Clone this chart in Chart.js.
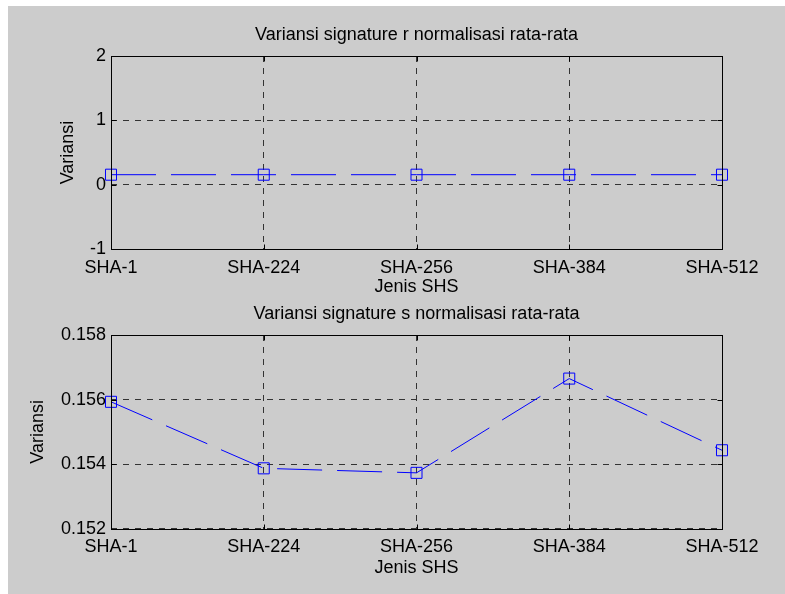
<!DOCTYPE html>
<html>
<head>
<meta charset="utf-8">
<script src="https://cdn.jsdelivr.net/npm/chart.js@4/dist/chart.umd.min.js"></script>
<style>
html, body { margin: 0; padding: 0; background: #fff; }
#fig { position: absolute; left: 8px; top: 6px; width: 777px; height: 588px; background: #cccccc; }
.box { position: absolute; left: 0; width: 777px; }
</style>
</head>
<body>
<div id="fig">
  <div class="box" style="top:0;height:290px"><canvas id="chartR"></canvas></div>
  <div class="box" style="top:290px;height:298px"><canvas id="chartS"></canvas></div>
</div>
<script>
let labels = ["SHA-1", "SHA-224", "SHA-256", "SHA-384", "SHA-512"];
let rValues = [0.155, 0.155, 0.155, 0.155, 0.155];
let sValues = [0.15593, 0.15387, 0.15373, 0.15665, 0.15443];
let rTicks = [-1, 0, 1, 2];
let sTicks = [0.152, 0.154, 0.156, 0.158];

Chart.defaults.font.family = "'Liberation Sans', Arial, sans-serif";
Chart.defaults.font.size = 18;
Chart.defaults.color = "#000";

// kotak sumbu + tick ke dalam (gaya MATLAB)
const axesBox = {
    id: "axesBox",
    afterDraw(chart) {
        const ctx = chart.ctx;
        const a = chart.chartArea;
        const L = Math.round(a.left) + 0.5, R = Math.round(a.right) + 0.5;
        const T = Math.round(a.top) + 0.5, B = Math.round(a.bottom) + 0.5;
        ctx.save();
        ctx.strokeStyle = "#000";
        ctx.lineWidth = 1;
        ctx.setLineDash([]);
        ctx.strokeRect(L, T, R - L, B - T);
        ctx.beginPath();
        chart.scales.x.ticks.forEach((t, i) => {
            let px = Math.round(chart.scales.x.getPixelForTick(i)) + 0.5;
            ctx.moveTo(px, B); ctx.lineTo(px, B - 5);
            ctx.moveTo(px, T); ctx.lineTo(px, T + 5);
        });
        chart.scales.y.ticks.forEach((t, i) => {
            let py = Math.round(chart.scales.y.getPixelForTick(i)) + 0.5;
            ctx.moveTo(L, py); ctx.lineTo(L + 5, py);
            ctx.moveTo(R, py); ctx.lineTo(R - 5, py);
        });
        ctx.stroke();
        ctx.restore();
    }
};

function makeChart(id, values, yTicks, title, cfg) {
    return new Chart(document.getElementById(id), {
        type: "line",
        data: {
            labels: labels,
            datasets: [{
                data: values,
                borderColor: "#0000ff",
                borderWidth: 1,
                borderDash: [45, 15],
                pointStyle: "rect",
                pointRadius: 7.8,
                pointHoverRadius: 7.8,
                pointBorderColor: "#0000ff",
                pointBackgroundColor: "rgba(0,0,0,0)",
                pointBorderWidth: 1,
                tension: 0,
                fill: false,
                clip: false
            }]
        },
        options: {
            responsive: true,
            maintainAspectRatio: false,
            animation: false,
            events: [],
            layout: { padding: { left: 0, top: 0, right: 63, bottom: cfg.padBottom } },
            plugins: {
                legend: { display: false },
                tooltip: { enabled: false },
                title: {
                    display: true,
                    fullSize: false,
                    text: title,
                    font: { size: 18, weight: "normal" },
                    color: "#000",
                    padding: { top: cfg.titleTop, bottom: 10.2 }
                }
            },
            scales: {
                x: {
                    type: "category",
                    offset: false,
                    grid: { color: "#333", drawTicks: false },
                    border: { display: false, dash: [6, 6] },
                    ticks: { padding: 8, maxRotation: 0, autoSkip: false },
                    title: { display: true, text: "Jenis SHS", padding: { top: 0, bottom: cfg.xTitlePad } },
                    afterFit: s => { s.height = cfg.xHeight; }
                },
                y: {
                    min: yTicks[0],
                    max: yTicks[yTicks.length - 1],
                    afterBuildTicks: s => { s.ticks = yTicks.map(v => ({ value: v })); },
                    grid: { color: "#333", drawTicks: false },
                    border: { display: false, dash: [6, 6] },
                    ticks: { padding: 5, callback: cfg.fmt },
                    title: { display: true, text: "Variansi", padding: { top: cfg.yTitlePad, bottom: 0 } },
                    afterFit: s => { s.width = 103; }
                }
            }
        },
        plugins: [axesBox]
    });
}

makeChart("chartR", rValues, rTicks, "Variansi signature r normalisasi rata-rata",
    { padBottom: 0, titleTop: 18.2, xHeight: 47, xTitlePad: -1.5, yTitlePad: 49.2, fmt: v => String(v) });

makeChart("chartS", sValues, sTicks, "Variansi signature s normalisasi rata-rata",
    { padBottom: 15, titleTop: 7.2, xHeight: 50.3, xTitlePad: 0, yTitlePad: 19.2, fmt: v => v.toFixed(3) });
</script>
</body>
</html>
